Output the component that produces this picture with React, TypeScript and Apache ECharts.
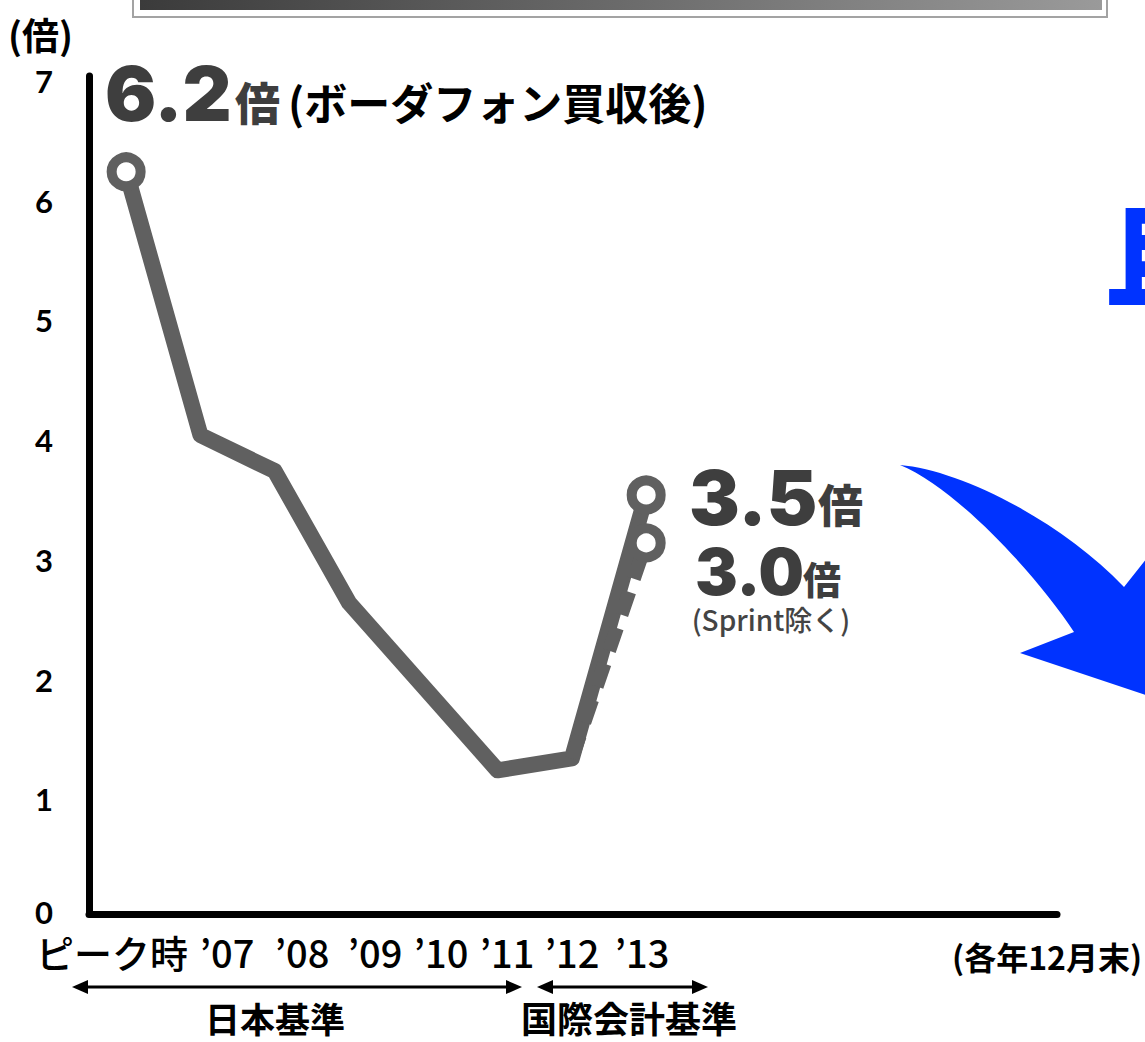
import React, { useEffect, useRef } from 'react';
import * as echarts from 'echarts';

// ---- data ----
const categories = ['ピーク時', '’07', '’08', '’09', '’10', '’11', '’12', '’13'];
const debtRatio = [6.2, 4.0, 3.7, 2.6, 1.9, 1.2, 1.3, 3.5];
const debtRatioExSprint: (number | null)[] = [null, null, null, null, null, null, 1.3, 3.1];
const markedPoints = [0, 7];
const yTickLabels = ['0', '1', '2', '3', '4', '5', '6', '7'];
const periodLabels = ['日本基準', '国際会計基準'];

// ---- layout (not data) ----
const W = 1145;
const H = 1042;
const xLabelCenters = [112, 227, 302, 375, 441, 507, 572, 642];
const CJK = '"Noto Sans CJK JP", "Noto Sans", sans-serif';
const HEAVY = 'Inter, Lato, "Noto Sans CJK JP", sans-serif';
const LINE = '#606060';
const NUM = '#3e3e3e';

const arrowPath =
  'M900 465 C960 470 1060 520 1124 587 L1154 549 L1200 555 L1200 713 L1020 653 L1074 632 C1040 580 960 490 900 465 Z';
let registered = false;
function ensureShapes() {
  if (registered) return;
  echarts.graphic.registerShape('bigArrow', echarts.graphic.extendPath(arrowPath, {}) as any);
  registered = true;
}

function dblArrow(x1: number, x2: number, y: number): any[] {
  const hl = 16;
  const hw = 7;
  return [
    { type: 'line', shape: { x1: x1 + hl - 2, y1: y, x2: x2 - hl + 2, y2: y }, style: { stroke: '#000', lineWidth: 3 } },
    { type: 'polygon', shape: { points: [[x1, y], [x1 + hl, y - hw], [x1 + hl, y + hw]] }, style: { fill: '#000' } },
    { type: 'polygon', shape: { points: [[x2, y], [x2 - hl, y - hw], [x2 - hl, y + hw]] }, style: { fill: '#000' } },
  ];
}

function txt(text: string, x: number, y: number, size: number, opts: any = {}): any {
  return {
    type: 'text',
    x,
    y,
    silent: true,
    z: opts.z ?? 10,
    style: {
      text,
      fontSize: size,
      fontFamily: opts.family ?? CJK,
      fontWeight: opts.weight ?? 'bold',
      fill: opts.fill ?? '#000',
      textAlign: opts.align ?? 'left',
      textVerticalAlign: 'middle',
    },
  };
}

const yLabelStyle = {
  fontSize: 31,
  fontWeight: 'bold',
  fontFamily: 'Lato, Inter, sans-serif',
  color: '#000',
};

export default function App() {
  const ref = useRef<HTMLDivElement>(null);
  useEffect(() => {
    if (!ref.current) return;
    ensureShapes();
    const chart = echarts.init(ref.current, undefined, { renderer: 'svg' });

    const mainData = debtRatio.map((v, i) => ({
      value: [i, v],
      symbol: markedPoints.includes(i) ? 'circle' : 'none',
    }));
    const exData = debtRatioExSprint
      .map((v, i) => (v == null ? null : { value: [i, v], symbol: i === categories.length - 1 ? 'circle' : 'none' }))
      .filter((d) => d != null);

    const graphic: any[] = [
      // top frame
      {
        type: 'rect',
        shape: { x: 133, y: -12, width: 974, height: 29 },
        style: { fill: '#fff', stroke: '#a3a3a3', lineWidth: 2 },
        silent: true,
      },
      {
        type: 'rect',
        shape: { x: 140, y: -5, width: 962, height: 15 },
        style: {
          fill: new echarts.graphic.LinearGradient(0, 0, 1, 0, [
            { offset: 0, color: '#3b3b3b' },
            { offset: 1, color: '#9a9a9a' },
          ]),
        },
        silent: true,
      },
      // blue arrow
      { type: 'bigArrow', x: 0, y: 0, scaleX: 1, scaleY: 1, style: { fill: '#0033ff' }, silent: true },
      txt('且', 1104, 250, 112, { fill: '#0033ff', weight: 900 }),
      // axis unit
      txt('(倍)', 8, 34, 37),
      // peak annotation
      txt('6.2', 105, 93, 76, { family: HEAVY, weight: 900, fill: NUM }),
      txt('倍', 235, 101, 45, { fill: NUM, weight: 900 }),
      txt('(ボーダフォン買収後)', 288, 101, 43),
      // latest annotations
      txt('3.5', 689, 497, 76, { family: HEAVY, weight: 900, fill: NUM }),
      txt('倍', 818, 503, 45, { fill: NUM, weight: 900 }),
      txt('3.0', 695, 571, 64, { family: HEAVY, weight: 900, fill: NUM }),
      txt('倍', 803, 577, 38, { fill: NUM, weight: 900 }),
      txt('(Sprint除く)', 771, 619, 28, { fill: '#444', weight: 500, align: 'center' }),
      // x category labels
      ...categories.map((c, i) => txt(c, xLabelCenters[i], 951, 38, { weight: 500, align: 'center' })),
      txt('(各年12月末)', 1142, 956, 32, { align: 'right' }),
      // period arrows and labels
      ...dblArrow(72, 522, 987),
      ...dblArrow(537, 708, 987),
      txt(periodLabels[0], 275, 1017, 35, { align: 'center' }),
      txt(periodLabels[1], 629, 1017, 36, { align: 'center' }),
    ];

    chart.setOption({
      animation: false,
      backgroundColor: '#fff',
      grid: { left: 89, right: W - 1057, top: 76, bottom: H - 914, containLabel: false },
      xAxis: {
        type: 'value',
        min: -0.5,
        max: 12.53,
        axisLine: { show: true, onZero: false, lineStyle: { color: '#000', width: 7 } },
        axisTick: { show: false },
        axisLabel: { show: false },
        splitLine: { show: false },
      },
      yAxis: {
        type: 'value',
        min: 0,
        max: 7,
        interval: 1,
        axisLine: { show: true, onZero: false, lineStyle: { color: '#000', width: 7 } },
        axisTick: { show: false },
        splitLine: { show: false },
        axisLabel: {
          margin: 45,
          align: 'center',
          ...yLabelStyle,
          formatter: (v: number) => {
            const i = Math.round(v);
            return (i === 0 ? '{b|' : '{a|') + (yTickLabels[i] ?? '') + '}';
          },
          rich: {
            a: { ...yLabelStyle, padding: [10, 0, 0, 0] },
            b: { ...yLabelStyle, padding: [0, 0, 4, 0] },
          },
        },
      },
      series: [
        {
          type: 'line',
          data: mainData,
          silent: true,
          emphasis: { disabled: true },
          symbolSize: 29,
          lineStyle: { color: LINE, width: 16, join: 'round', cap: 'round' },
          itemStyle: { color: '#fff', borderColor: LINE, borderWidth: 10 },
          z: 3,
        },
        {
          type: 'line',
          data: exData,
          silent: true,
          emphasis: { disabled: true },
          symbolSize: 29,
          lineStyle: { color: LINE, width: 14, type: [24, 14] },
          itemStyle: { color: '#fff', borderColor: LINE, borderWidth: 10 },
          z: 4,
        },
      ],
      graphic,
    });
    return () => chart.dispose();
  }, []);
  return (
    <div
      ref={ref}
      style={{ position: 'fixed', left: 0, top: 0, width: W, height: H, background: '#fff' }}
    />
  );
}
